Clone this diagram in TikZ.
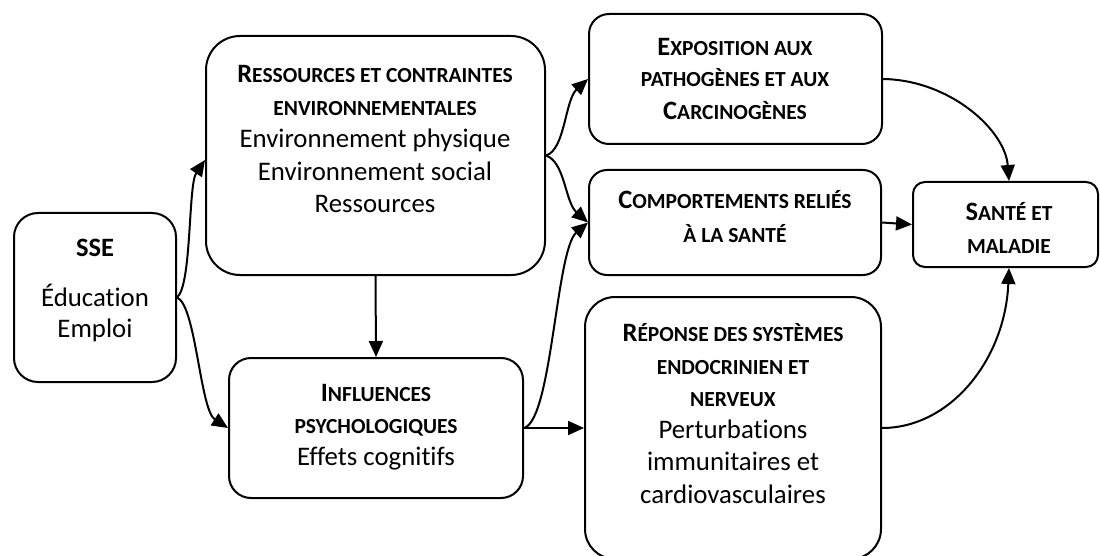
\documentclass[tikz,border=0pt]{standalone}
\usepackage{fontspec}
\setmainfont{Carlito}[Ligatures=NoCommon]
\usetikzlibrary{arrows.meta}
\newcommand\bigc[1]{{\fontsize{26.5}{32.5}\selectfont #1}}
\newcommand\smc[1]{{\fontsize{21.5}{32.5}\selectfont #1}}
\begin{document}
\begin{tikzpicture}[x=1pt,y=-1pt,
  box/.style={draw, line width=2pt, rounded corners=#1, inner sep=0pt},
  txt/.style={anchor=base, inner sep=0pt, font=\fontsize{26.8}{32.5}\selectfont},
  ttl/.style={txt, font=\fontsize{26.5}{32.5}\selectfont\bfseries},
  arr/.style={line width=2pt, -{Triangle[length=16pt,width=14pt]}}]
\useasboundingbox (0,0) rectangle (1100,556);

% boxes
\node[box=24pt, minimum width=162pt, minimum height=169pt] (sse) at (95,297.5) {};
\node[box=34pt, minimum width=339pt, minimum height=239pt] (res) at (375.5,155.5) {};
\node[box=20pt, minimum width=293pt, minimum height=130pt] (exp) at (735.5,79) {};
\node[box=18pt, minimum width=292pt, minimum height=105pt] (com) at (735,222.5) {};
\node[box=12pt, minimum width=185pt, minimum height=85pt] (san) at (1005.5,224.5) {};
\node[box=22pt, minimum width=294pt, minimum height=140pt] (inf) at (376,428) {};
\node[box=30pt, minimum width=296pt, minimum height=262pt] (rep) at (733,428) {};

% texts
\node[ttl] (sse1) at (95,256) {SSE};
\node[txt] (sse2) at (95,306) {Éducation};
\node[txt] (sse3) at (95,337) {Emploi};

\node[ttl] (res1) at (375,83) {\bigc{R}\smc{ESSOURCES ET CONTRAINTES}};
\node[ttl] (res2) at (375,116) {\smc{ENVIRONNEMENTALES}};
\node[txt] (res3) at (375,148) {Environnement physique};
\node[txt] (res4) at (375,181) {Environnement social};
\node[txt] (res5) at (375,212) {Ressources};

\node[ttl] (exp1) at (735,56) {\bigc{E}\smc{XPOSITION AUX}};
\node[ttl] (exp2) at (735,87) {\smc{PATHOGÈNES ET AUX}};
\node[ttl] (exp3) at (735,120) {\bigc{C}\smc{ARCINOGÈNES}};

\node[ttl] (com1) at (735,209) {\bigc{C}\smc{OMPORTEMENTS RELIÉS}};
\node[ttl] (com2) at (735,242) {\smc{À LA SANTÉ}};

\node[ttl] (san1) at (1009,220) {\bigc{S}\smc{ANTÉ ET}};
\node[ttl] (san2) at (1009,253) {\smc{MALADIE}};

\node[ttl] (inf1) at (376,401) {\bigc{I}\smc{NFLUENCES}};
\node[ttl] (inf2) at (376,433) {\smc{PSYCHOLOGIQUES}};
\node[txt] (inf3) at (376,465) {Effets cognitifs};

\node[ttl] (rep1) at (733,341) {\bigc{R}\smc{ÉPONSE DES SYSTÈMES}};
\node[ttl] (rep2) at (733,374) {\smc{ENDOCRINIEN ET}};
\node[ttl] (rep3) at (733,406) {\smc{NERVEUX}};
\node[txt] (rep4) at (733,438) {Perturbations};
\node[txt] (rep5) at (733,470) {immunitaires et};
\node[txt] (rep6) at (733,503) {cardiovasculaires};

% connectors
\draw[arr] (sse.east) .. controls (192,285) and (188,185) .. ([yshift=-4.5pt]res.west);
\draw[arr] (sse.east) .. controls (196,305) and (200,410) .. (inf.west);
\draw[arr] (res.south) -- (inf.north);
\draw[arr] (res.east) .. controls (565,150) and (565,100) .. (exp.west);
\draw[arr] (res.east) .. controls (565,162) and (565,202) .. (com.west);
\draw[arr] (inf.east) .. controls (552,420) and (556,250) .. (com.west);
\draw[arr] (inf.east) -- (rep.west);
\draw[arr] (exp.east) .. controls (950,80) and (1005,130) .. ([xshift=3.5pt]san.north);
\draw[arr] (com.east) -- (san.west);
\draw[arr] (rep.east) .. controls (950,428) and (1005,360) .. ([xshift=3.5pt]san.south);
\end{tikzpicture}
\end{document}
